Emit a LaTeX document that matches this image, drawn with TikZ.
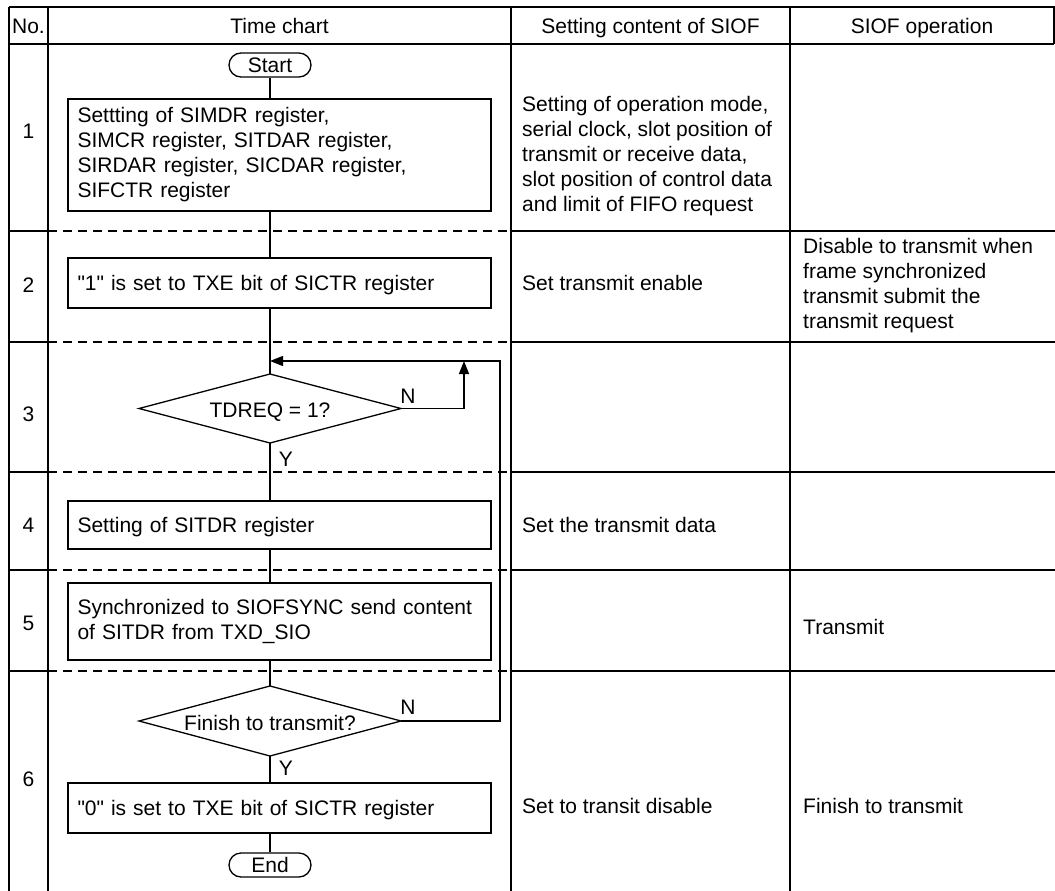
\documentclass[tikz,border=0pt]{standalone}
\usepackage{fontspec}
\setmainfont{Liberation Sans}
\usetikzlibrary{arrows.meta}
\begin{document}
\begin{tikzpicture}[x=1pt,y=-1pt,
  font=\fontsize{21}{25}\selectfont,
  grid/.style={line width=1.5pt},
  dashsep/.style={line width=1.3pt,dash pattern=on 9pt off 6pt},
  flow/.style={line width=1.3pt},
  oneline/.style={text height=15pt,text depth=0pt,inner sep=0pt},
  procbox/.style={draw,line width=1.3pt,minimum width=423pt,text width=404pt,inner xsep=9.5pt,inner ysep=0pt,align=left},
  term/.style={draw,line width=1.3pt,rounded corners=12pt,minimum width=82pt,minimum height=24pt,inner sep=0pt,text height=15pt,text depth=0pt},
  celltext/.style={anchor=west,align=left,inner sep=0pt},
  arr/.style={-{Triangle[length=13pt,width=10pt]}}
]
\useasboundingbox (0,0) rectangle (1055,891);
% ---- table grid ----
\draw[grid] (9,7) -- (1054,7) -- (1054,44);
\draw[grid] (9,44) -- (1054,44);
\foreach \xx in {9,48,511,790} \draw[grid] (\xx,7) -- (\xx,891);
\foreach \yy in {231,342,472,570,671} {
  \draw[grid] (9,\yy) -- (48,\yy);
  \draw[dashsep] (48,\yy) -- (511,\yy);
  \draw[grid] (511,\yy) -- (1055,\yy);
}
% ---- headers ----
\node[oneline] (hno) at (28.5,26) {No.};
\node[oneline] (htc) at (279.5,26) {Time chart};
\node[oneline] (hset) at (650.5,26) {Setting content of SIOF};
\node[oneline] (hop) at (922,26) {SIOF operation};
% ---- row numbers ----
\node[oneline] (n1) at (28.5,131) {1};
\node[oneline] (n2) at (28.5,285) {2};
\node[oneline] (n3) at (28.5,414) {3};
\node[oneline] (n4) at (28.5,525) {4};
\node[oneline] (n5) at (28.5,623) {5};
\node[oneline] (n6) at (28.5,779) {6};
% ---- flowchart ----
\node[term] (start) at (270,65) {Start};
\node[procbox,minimum height=112pt] (b1) at (279.5,155) {Settting of SIMDR register,\\SIMCR register, SITDAR register,\\SIRDAR register, SICDAR register,\\SIFCTR register};
\node[procbox,minimum height=50pt,text height=15pt,text depth=0pt] (b2) at (279.5,283) {\textquotedbl 1\textquotedbl{} is set to TXE bit of SICTR register};
% decision 3
\node[oneline] (d3) at (270,410) {TDREQ = 1?};
\coordinate (d3n) at (270,374);
\coordinate (d3s) at (270,443);
\coordinate (d3w) at (139,408.5);
\coordinate (d3e) at (401,408.5);
\draw[flow] (d3n) -- (d3e) -- (d3s) -- (d3w) -- cycle;
\node[procbox,minimum height=48pt,text height=15pt,text depth=0pt] (b4) at (279.5,525) {Setting of SITDR register};
\node[procbox,minimum height=77pt] (b5) at (279.5,621.5) {Synchronized to SIOFSYNC send content\\of SITDR from TXD\_SIO};
% decision 6
\node[oneline] (d6) at (270,723) {Finish to transmit?};
\coordinate (d6n) at (270,686);
\coordinate (d6s) at (270,756);
\coordinate (d6w) at (139,721);
\coordinate (d6e) at (401,721);
\draw[flow] (d6n) -- (d6e) -- (d6s) -- (d6w) -- cycle;
\node[procbox,minimum height=50pt,text height=15pt,text depth=0pt] (b6) at (279.5,808) {\textquotedbl 0\textquotedbl{} is set to TXE bit of SICTR register};
\node[term] (end) at (270,865) {End};
\coordinate (loopin) at (270,361);
\coordinate (nup) at (464,361);
\coordinate (nbend) at (464,408.5);
\coordinate (ltop) at (500,361);
\coordinate (lbot) at (500,721);
\draw[flow] (start.south) -- (start.south |- b1.north);
\draw[flow] (start.south |- b1.south) -- (start.south |- b2.north);
\draw[flow] (start.south |- b2.south) -- (d3n);
\draw[flow] (d3s) -- (d3s |- b4.north);
\draw[flow] (d3s |- b4.south) -- (d3s |- b5.north);
\draw[flow] (d3s |- b5.south) -- (d6n);
\draw[flow] (d6s) -- (d6s |- b6.north);
\draw[flow] (d6s |- b6.south) -- (end.north);
\draw[flow,arr] (d3e) -- (nbend) -- (nup);
\draw[flow,arr] (d6e) -- (lbot) -- (ltop) -- (loopin);
\node[oneline] (n3lab) at (408,396) {N};
\node[oneline] (y3lab) at (286,459) {Y};
\node[oneline] (n6lab) at (408,707) {N};
\node[oneline] (y6lab) at (286,768) {Y};
% ---- setting column ----
\node[celltext] (s1) at (522,156) {Setting of operation mode,\\serial clock, slot position of\\transmit or receive data,\\slot position of control data\\and limit of FIFO request};
\node[celltext,oneline] (s2) at (522,283) {Set transmit enable};
\node[celltext,oneline] (s4) at (522,525) {Set the transmit data};
\node[celltext,oneline] (s6) at (522,806) {Set to transit disable};
% ---- operation column ----
\node[celltext] (o2) at (803,286) {Disable to transmit when\\frame synchronized\\transmit submit the\\transmit request};
\node[celltext,oneline] (o5) at (803,627) {Transmit};
\node[celltext,oneline] (o6) at (803,806) {Finish to transmit};
\end{tikzpicture}
\end{document}
